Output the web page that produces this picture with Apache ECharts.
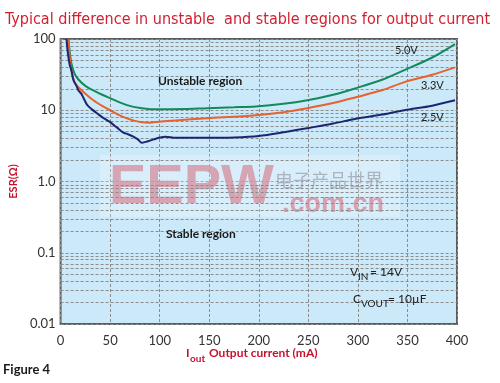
<!DOCTYPE html>
<html><head><meta charset="utf-8">
<script src="https://cdn.jsdelivr.net/npm/echarts@6/dist/echarts.min.js"></script>
<style>html,body{margin:0;padding:0;background:#fff}#c{width:500px;height:383px}</style>
</head><body><div id="c"></div>
<script>
var xTicks = [0, 50, 100, 150, 200, 250, 300, 350, 400];
var yTickLabels = {0.01: '0.01', 0.1: '0.1', 1: '1.0', 10: '10', 100: '100'};
var minorGrid = [0.02,0.03,0.04,0.05,0.06,0.07,0.08,0.09,0.2,0.3,0.4,0.5,0.6,0.7,0.8,0.9,2,3,4,5,6,7,8,9,20,30,40,50,60,70,80,90];

var current5V = [8, 9, 11, 14, 18, 25, 33, 42, 50, 67, 82, 99, 125, 148, 175, 197, 225, 249, 275, 298, 325, 347, 375, 398];
var esr5V     = [100, 70, 45, 33, 27, 22, 19, 16.5, 14.8, 11.8, 10.7, 10.3, 10.4, 10.7, 11, 11.3, 12.3, 13.8, 16.5, 20.4, 27, 36.6, 55, 85];

var current33V = [8, 9, 11, 14, 18, 25, 33, 42, 50, 58, 67, 75, 82, 90, 99, 116, 148, 197, 225, 249, 275, 298, 325, 347, 375, 398];
var esr33V     = [100, 60, 35, 25, 21, 17, 13.8, 11.5, 10, 8.7, 7.7, 7.1, 6.8, 6.7, 6.9, 7.2, 7.7, 8.5, 9.4, 10.7, 12.6, 15.2, 19.2, 24.8, 31.5, 40];

var current25V = [6, 7, 9, 11, 13, 16, 18, 21, 23, 27, 32, 37, 43, 50, 57, 63, 68, 73, 78, 82, 86, 89, 94, 99, 106, 116, 148, 175, 200, 225, 249, 275, 298, 325, 347, 375, 398];
var esr25V     = [100, 70, 45, 36, 26.5, 22, 19, 17, 15, 11.8, 10.2, 9, 7.8, 6.8, 5.7, 4.9, 4.6, 4.3, 3.9, 3.5, 3.6, 3.7, 3.9, 4.1, 4.25, 4.1, 4.1, 4.15, 4.35, 4.9, 5.6, 6.5, 7.6, 8.7, 10, 11.6, 13.8];

function pairs(xs, ys) { return xs.map(function (x, i) { return [x, ys[i]]; }); }

var font = 'Lato, "Noto Sans", sans-serif';
var chart = echarts.init(document.getElementById('c'), null, {renderer: 'canvas'});
chart.setOption({
  backgroundColor: '#ffffff',
  animation: false,
  grid: {left: 49, right: 43, top: 39, bottom: 59, show: true, backgroundColor: '#cbe9f8', borderColor: '#5c5c5c', borderWidth: 2},
  xAxis: {
    type: 'value', min: 0, max: 400, interval: 50,
    axisLine: {show: false}, axisTick: {show: false},
    axisLabel: {color: '#333', fontFamily: font, fontSize: 13, margin: 10},
    splitLine: {show: true, lineStyle: {color: '#8c8c8c', type: [3, 2], width: 1}}
  },
  yAxis: {
    type: 'log', logBase: 10, min: 0.01, max: 100,
    axisLine: {show: false}, axisTick: {show: false},
    axisLabel: {color: '#333', fontFamily: font, fontSize: 13, margin: 5,
      formatter: function (v) { var k = Math.round(Math.log10(v)); return yTickLabels[Math.pow(10, k)] || ''; }},
    splitLine: {show: true, lineStyle: {color: '#8c8c8c', type: [3, 2], width: 1}},
    name: 'ESR(Ω)', nameLocation: 'middle', nameRotate: 90, nameGap: 27,
    nameTextStyle: {color: '#c8102e', fontFamily: font, fontWeight: 'bold', fontSize: 11}
  },
  graphic: [
    {type: 'text', left: 5, top: 12, style: {text: 'Typical difference in unstable  and stable regions for output current', fill: '#d1202f', font: '16px "DejaVu Sans Condensed", "DejaVu Sans", sans-serif'}},
    {type: 'rect', shape: {x: 100, y: 155, width: 300, height: 62}, style: {fill: 'rgba(255,255,255,0.25)'}, z: 1, silent: true},
    {type: 'text', x: 109, y: 160, style: {text: 'EEPW', fill: 'rgba(214,140,156,0.75)', font: 'bold 56px "Liberation Sans", Arial, sans-serif'}, z: 1},
    {type: 'text', x: 275, y: 171, style: {text: '电子产品世界', fill: 'rgba(140,140,150,0.6)', font: '18px "Noto Sans CJK SC", sans-serif'}, z: 1},
    {type: 'text', x: 282, y: 191, style: {text: '.com.cn', fill: 'rgba(214,140,156,0.8)', font: 'bold 27px "Liberation Sans", Arial, sans-serif'}, z: 1},
    {type: 'text', x: 158, y: 75, style: {text: 'Unstable region', fill: '#1a1a1a', font: 'bold 12px ' + font}, z: 10},
    {type: 'text', x: 166, y: 228, style: {text: 'Stable region', fill: '#1a1a1a', font: 'bold 12px ' + font}, z: 10},
    {type: 'text', x: 395, y: 45, style: {text: '5.0V', fill: '#222', font: '11px ' + font}, z: 10},
    {type: 'text', x: 421, y: 80, style: {text: '3.3V', fill: '#222', font: '11px ' + font}, z: 10},
    {type: 'text', x: 421, y: 112, style: {text: '2.5V', fill: '#222', font: '11px ' + font}, z: 10},
    {type: 'text', x: 350, y: 266, style: {text: 'V', fill: '#222', font: '12px ' + font}, z: 10},
    {type: 'text', x: 358, y: 272, style: {text: 'IN', fill: '#222', font: '10px ' + font}, z: 10},
    {type: 'text', x: 370, y: 266, style: {text: '= 14V', fill: '#222', font: '12px ' + font}, z: 10},
    {type: 'text', x: 353, y: 293, style: {text: 'C', fill: '#222', font: '12px ' + font}, z: 10},
    {type: 'text', x: 361, y: 299, style: {text: 'VOUT', fill: '#222', font: '10px ' + font}, z: 10},
    {type: 'text', x: 388, y: 293, style: {text: '= 10µF', fill: '#222', font: '12px ' + font}, z: 10},
    {type: 'text', x: 186, y: 347, style: {text: 'I', fill: '#c8102e', font: 'bold 12px ' + font}, z: 10},
    {type: 'text', x: 190, y: 354, style: {text: 'out', fill: '#c8102e', font: 'bold 10px ' + font}, z: 10},
    {type: 'text', x: 209, y: 347, style: {text: 'Output current (mA)', fill: '#c8102e', font: 'bold 12px ' + font}, z: 10},
    {type: 'text', x: 3, y: 363, style: {text: 'Figure 4', fill: '#1a1a1a', font: 'bold 13px ' + font}, z: 10}
  ],
  series: [
    {type: 'line', data: [[0, 1]], showSymbol: false, lineStyle: {opacity: 0}, z: 1, silent: true,
     markLine: {silent: true, symbol: 'none', label: {show: false}, animation: false,
       lineStyle: {color: '#8c8c8c', type: [3, 2], width: 1},
       data: minorGrid.map(function (v) { return {yAxis: v}; })}},
    {name: '5.0V', type: 'line', data: pairs(current5V, esr5V), smooth: 0.3, showSymbol: false, lineStyle: {color: '#138a5a', width: 2}, z: 5},
    {name: '3.3V', type: 'line', data: pairs(current33V, esr33V), smooth: 0.3, showSymbol: false, lineStyle: {color: '#e8622c', width: 2}, z: 5},
    {name: '2.5V', type: 'line', data: pairs(current25V, esr25V), smooth: 0.3, showSymbol: false, lineStyle: {color: '#1c2670', width: 2}, z: 5}
  ]
});
</script></body></html>
